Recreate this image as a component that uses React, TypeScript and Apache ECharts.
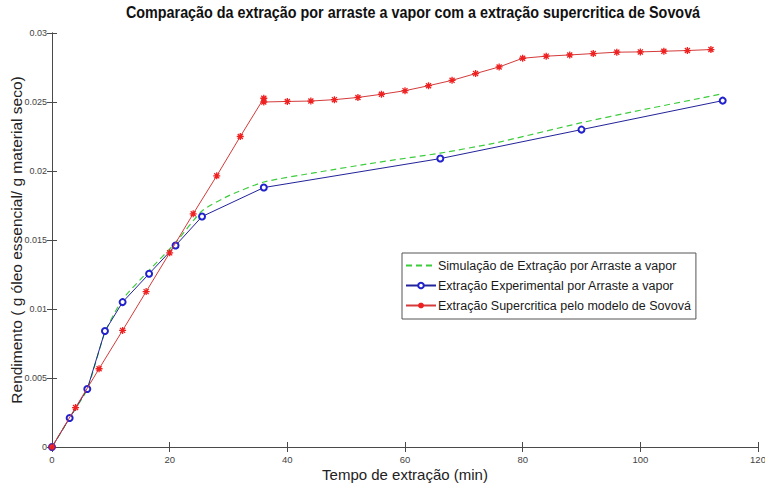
import React, { useEffect, useRef } from "react";
import * as echarts from "echarts";

const titleText = "Comparação da extração por arraste a vapor com a extração supercritica de Sovová";
const xAxisName = "Tempo de extração (min)";
const yAxisName = "Rendimento ( g óleo essencial/ g material seco)";
const seriesNames = [
  "Simulação de Extração por Arraste a vapor",
  "Extração Experimental por Arraste a vapor",
  "Extração Supercritica pelo modelo de Sovová",
];

// Simulation (green dashed)
const simX = [0, 3, 6, 9, 12, 16.5, 21, 25.5, 30, 36, 45, 55, 66, 75, 90, 100, 114];
const simY = [0, 0.0021, 0.0042, 0.0083, 0.0107, 0.0128, 0.0148, 0.0171, 0.0182, 0.0192, 0.0199, 0.0206, 0.0213, 0.0220, 0.0235, 0.0244, 0.0256];

// Experimental (blue circles)
const expX = [0, 3, 6, 9, 12, 16.5, 21, 25.5, 36, 66, 90, 114];
const expY = [0, 0.0021, 0.0042, 0.0084, 0.0105, 0.01255, 0.0146, 0.0167, 0.0188, 0.0209, 0.0230, 0.0251];

// Sovová model (red asterisks)
const supX = [0, 4, 8, 12, 16, 20, 24, 28, 32, 36, 36, 40, 44, 48, 52, 56, 60, 64, 68, 72, 76, 80, 84, 88, 92, 96, 100, 104, 108, 112];
const supY = [0, 0.00286, 0.00567, 0.00845, 0.01126, 0.01407, 0.0169, 0.01965, 0.0225, 0.02527, 0.0250, 0.02504, 0.02507, 0.02517, 0.02533, 0.02556, 0.02582, 0.02618, 0.02657, 0.02706, 0.02754, 0.02817, 0.02832, 0.02841, 0.02851, 0.02861, 0.02863, 0.02868, 0.02873, 0.0288];

const xTicks = { min: 0, max: 120, interval: 20 };
const yTicks = { min: 0, max: 0.03, interval: 0.005 };

const pairs = (xs: number[], ys: number[]) => xs.map((x, i) => [x, ys[i]]);

const asterisk = "path://M0,-5L0,5M-5,0L5,0M-3.6,-3.6L3.6,3.6M-3.6,3.6L3.6,-3.6";

const FONT = "'Liberation Sans', Arial, Helvetica, sans-serif";

export default function App() {
  const ref = useRef<HTMLDivElement>(null);
  useEffect(() => {
    if (!ref.current) return;
    const chart = echarts.init(ref.current, null, { renderer: "svg" });
    const axisLine = { show: true, lineStyle: { color: "#4a4a4a", width: 1 } };
    const tick = { show: true, inside: true, length: 5, lineStyle: { color: "#4a4a4a" } };
    chart.setOption({
      animation: false,
      backgroundColor: "#ffffff",
      textStyle: { fontFamily: FONT },
      graphic: [
        {
          type: "text",
          x: 413,
          y: 4,
          scaleX: 0.845,
          style: {
            text: titleText,
            textAlign: "center",
            textVerticalAlign: "top",
            fontSize: 17,
            fontWeight: "bold",
            fontFamily: FONT,
            fill: "#111",
          },
        },
      ],
      grid: { left: 52, right: 7, top: 33, bottom: 38, containLabel: false, outerBoundsMode: "none" },
      legend: {
        orient: "vertical",
        left: 402,
        top: 253,
        backgroundColor: "#ffffff",
        borderColor: "#555",
        borderWidth: 1,
        borderRadius: 0,
        padding: [6, 5, 7, 3],
        itemWidth: 30,
        itemHeight: 7,
        itemGap: 7,
        textStyle: { fontSize: 12.5, color: "#1a1a1a", fontFamily: FONT, padding: [0, 0, 0, -3] },
        data: [
          { name: seriesNames[0], itemStyle: { opacity: 0 } },
          { name: seriesNames[1] },
          { name: seriesNames[2] },
        ],
      },
      xAxis: [
        {
          type: "value",
          ...xTicks,
          position: "bottom",
          name: xAxisName,
          nameLocation: "middle",
          nameGap: 20,
          nameMoveOverlap: false,
          nameTextStyle: { fontSize: 15, color: "#222", fontFamily: FONT },
          axisLine,
          axisTick: tick,
          splitLine: { show: false },
          axisLabel: { fontSize: 9.5, color: "#444", margin: 7 },
        },
        {
          type: "value",
          ...xTicks,
          position: "top",
          axisLine,
          axisTick: tick,
          splitLine: { show: false },
          axisLabel: { show: false },
        },
      ],
      yAxis: [
        {
          type: "value",
          ...yTicks,
          position: "left",
          name: yAxisName,
          nameLocation: "middle",
          nameGap: 28,
          nameMoveOverlap: false,
          nameTextStyle: { fontSize: 15.5, color: "#222", fontFamily: FONT },
          axisLine,
          axisTick: tick,
          splitLine: { show: false },
          axisLabel: { fontSize: 9, color: "#444", margin: 5 },
        },
        {
          type: "value",
          ...yTicks,
          position: "right",
          axisLine,
          axisTick: tick,
          splitLine: { show: false },
          axisLabel: { show: false },
        },
      ],
      series: [
        {
          name: seriesNames[0],
          type: "line",
          data: pairs(simX, simY),
          symbol: "none",
          smooth: 0.2,
          lineStyle: { color: "#3ccc3c", width: 1.2, type: [6, 4] },
          itemStyle: { color: "#3ccc3c" },
          z: 2,
        },
        {
          name: seriesNames[1],
          type: "line",
          data: pairs(expX, expY),
          symbol: "emptyCircle",
          symbolSize: 6,
          lineStyle: { color: "#22229a", width: 1 },
          itemStyle: { color: "#2222cc", borderColor: "#2222cc", borderWidth: 1 },
          z: 3,
        },
        {
          name: seriesNames[2],
          type: "line",
          data: pairs(supX, supY),
          symbol: asterisk,
          symbolSize: 7,
          lineStyle: { color: "#d43a3a", width: 1 },
          itemStyle: { color: "#ee2020", borderColor: "#ee2020", borderWidth: 1.3 },
          z: 4,
        },
      ],
    });
    return () => chart.dispose();
  }, []);
  return (
    <div
      ref={ref}
      style={{ position: "absolute", left: 0, top: 0, width: 765, height: 485, background: "#fff" }}
    />
  );
}
